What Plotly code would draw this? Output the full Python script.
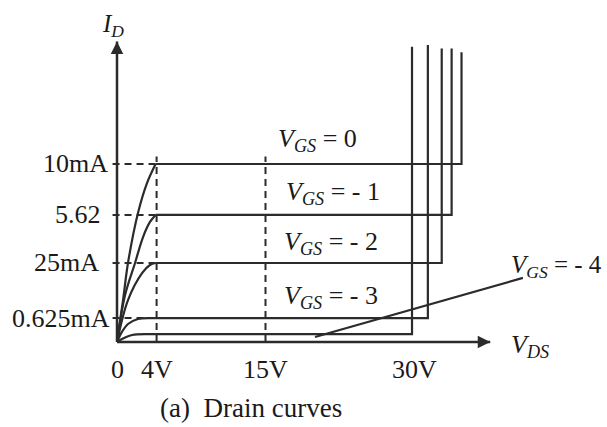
import plotly.graph_objects as go

# ---------------- data ----------------
# x in volts (V_DS); y in drawing units of the curve height
vgs_names = ["0", "- 1", "- 2", "- 3", "- 3.5"]
sat_levels = [9.89, 7.06, 4.39, 1.33, 0.44]          # flat (saturation) level of each curve
knee_v = [
    [0, 0.61, 1.11, 2.12, 3.03, 3.9],
    [0, 0.81, 1.82, 2.63, 3.33, 3.9],
    [0, 1.11, 2.53, 3.33, 3.9],
    [0, 0.5, 1.11, 2.12, 3.33],
    [0, 0.71, 1.52, 2.83],
]
knee_i = [
    [0, 2.33, 4.39, 7.17, 8.83, 9.89],
    [0, 2.6, 4.39, 5.83, 6.67, 7.06],
    [0, 2.33, 3.83, 4.28, 4.39],
    [0, 0.56, 1.0, 1.28, 1.33],
    [0, 0.22, 0.39, 0.44],
]
breakdown_v = [34.8, 33.8, 32.8, 31.4, 29.8]          # V_DS where each curve breaks down
breakdown_top = [16.1, 16.3, 16.3, 16.5, 16.4]        # top end of the breakdown line

vgs4_v = [20.0, 41.0]                                  # V_GS = -4 line
vgs4_i = [0.28, 3.56]

y_tick_labels = ["10mA", "5.62", "25mA", "0.625mA"]
y_tick_vals = sat_levels[:4]
x_tick_labels = ["0", "4V", "15V", "30V"]
x_tick_vals = [0, 4, 15, 30]
dash_v = [4, 15]                                       # vertical dashed guides
dash_top = 10.3

x_axis_end = 37.7
y_axis_end = 16.7

# ---------------- figure ----------------
INK = "#2b2b2b"
TXT = "#1a1a1a"
FONT = "Liberation Serif"
fig = go.Figure()

def line(xs, ys, width=2.2, dash=None, shape="linear", color=INK):
    fig.add_trace(go.Scatter(x=xs, y=ys, mode="lines", hoverinfo="skip",
                             line=dict(color=color, width=width, dash=dash, shape=shape),
                             showlegend=False))

# axes
line([0, 0], [0, y_axis_end], width=2.5)
line([0, x_axis_end], [0, 0], width=2.5)

# dashed guides
for lv in y_tick_vals:
    line([-0.45, 3.9], [lv, lv], width=2, dash="7px,5px")
for xv in dash_v:
    line([xv, xv], [0, dash_top], width=2, dash="7px,5px")

# drain curves
for k in range(len(sat_levels)):
    line(knee_v[k], knee_i[k], shape="spline")
    line([knee_v[k][-1], breakdown_v[k], breakdown_v[k]],
         [sat_levels[k], sat_levels[k], breakdown_top[k]])

line(vgs4_v, vgs4_i)

ann = []
# arrowheads
ann.append(dict(x=0, y=y_axis_end, ax=0, ay=y_axis_end - 1.2, axref="x", ayref="y",
                xref="x", yref="y", text="", showarrow=True, arrowhead=2,
                arrowsize=1.25, arrowwidth=2, arrowcolor=INK))
ann.append(dict(x=x_axis_end, y=0, ax=x_axis_end - 1.5, ay=0, axref="x", ayref="y",
                xref="x", yref="y", text="", showarrow=True, arrowhead=2,
                arrowsize=1.25, arrowwidth=2, arrowcolor=INK))

# y tick labels
y_label_right = [-0.7, -1.45, -1.65, -0.5]
for t, v, xr in zip(y_tick_labels, y_tick_vals, y_label_right):
    ann.append(dict(x=xr, y=v, text=t, xanchor="right", yanchor="middle",
                    showarrow=False, font=dict(family=FONT, size=26, color=TXT)))
# x tick labels
for t, v in zip(x_tick_labels, x_tick_vals):
    ann.append(dict(x=v, y=-1.5, text=t, xanchor="center", yanchor="middle",
                    showarrow=False, font=dict(family=FONT, size=26, color=TXT)))

# curve labels
lab_pos = [(16.1, 11.2), (16.9, 8.3), (16.7, 5.5), (16.7, 2.5)]
for name, (xv, yv) in zip(vgs_names[:4], lab_pos):
    ann.append(dict(x=xv, y=yv, text="<i>V</i><sub><i>GS</i></sub> = " + name,
                    xanchor="left", yanchor="middle", showarrow=False,
                    font=dict(family=FONT, size=26, color=TXT)))
ann.append(dict(x=39.6, y=4.2, text="<i>V</i><sub><i>GS</i></sub> = - 4",
                xanchor="left", yanchor="middle", showarrow=False,
                font=dict(family=FONT, size=25, color=TXT)))

# axis titles
ann.append(dict(x=-1.7, y=17.6, text="<i>I</i><sub><i>D</i></sub>", xanchor="left",
                yanchor="middle", showarrow=False, font=dict(family=FONT, size=25, color=TXT)))
ann.append(dict(x=39.6, y=-0.2, text="<i>V</i><sub><i>DS</i></sub>", xanchor="left",
                yanchor="middle", showarrow=False, font=dict(family=FONT, size=26, color=TXT)))

# caption
ann.append(dict(x=13.5, y=-3.65, text="(a)  Drain curves", xanchor="center", yanchor="middle",
                showarrow=False, font=dict(family=FONT, size=27, color=TXT)))

fig.update_layout(
    width=607, height=427, margin=dict(l=0, r=0, t=0, b=0),
    paper_bgcolor="white", plot_bgcolor="white",
    xaxis=dict(range=[-117 / 9.9, 490 / 9.9], visible=False, fixedrange=True),
    yaxis=dict(range=[-85 / 18, 342 / 18], visible=False, fixedrange=True),
    annotations=ann,
)

fig.write_html("out.html", config={"displayModeBar": False},
               post_script="document.body.style.margin='0';document.body.style.overflow='hidden';")
